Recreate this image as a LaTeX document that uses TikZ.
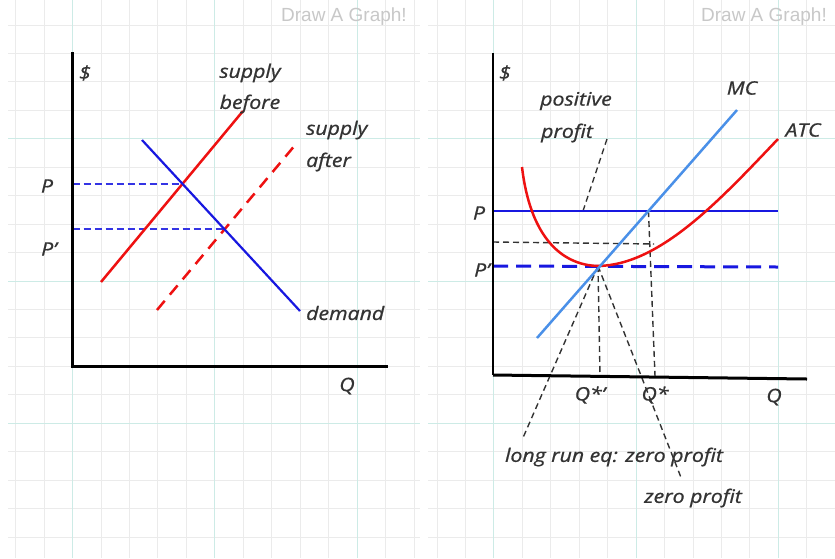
\documentclass[tikz,border=0pt]{standalone}
\usepackage{fontspec}
\setmainfont{Open Sans}
\newfontfamily\hand[ItalicFeatures={FakeStretch=1.15,FakeBold=0.9}]{Open Sans}
\newfontfamily\uifont{Liberation Sans}
\definecolor{gridminor}{HTML}{EBEBEB}
\definecolor{gridmajor}{HTML}{CDEBE6}
\definecolor{ink}{HTML}{333333}
\definecolor{redc}{HTML}{EE1111}
\definecolor{bluec}{HTML}{1818E0}
\definecolor{pblue}{HTML}{3434E4}
\definecolor{mcblue}{HTML}{4A90E8}
\definecolor{wm}{HTML}{C8C8C8}
\begin{document}
\begin{tikzpicture}[x=1pt,y=-1pt,
  lbl/.style={font=\hand\itshape\fontsize{18.5}{18.5}\selectfont, text=ink, inner sep=0pt},
  wmark/.style={font=\uifont\fontsize{19}{19}\selectfont, text=wm, inner sep=0pt, anchor=east},
  axis/.style={black, line width=3pt},
  thinaxis/.style={black, line width=2pt},
  redline/.style={redc, line width=2.5pt},
  reddash/.style={redc, line width=2.5pt, dash pattern=on 12pt off 8pt},
  blueline/.style={bluec, line width=2.2pt},
  pdash/.style={pblue, line width=2pt, dash pattern=on 7pt off 4pt},
  bkdash/.style={ink, line width=1.4pt, dash pattern=on 6pt off 4pt},
  thickdash/.style={bluec, line width=3pt, dash pattern=on 15pt off 8pt},
]
\useasboundingbox (0,0) rectangle (835,558);
\fill[white] (0,0) rectangle (835,558);
% ---------- grid ----------
\foreach \i in {0,...,18} {
  \draw[gridminor, line width=1pt] (8,{25+28.45*\i}) -- (420,{25+28.45*\i});
  \draw[gridminor, line width=1pt] (428,{25+28.45*\i}) -- (835,{25+28.45*\i});
}
\foreach \i in {0,...,14} {
  \draw[gridminor, line width=1pt] ({15.7+28.45*\i},0) -- ({15.7+28.45*\i},558);
  \draw[gridminor, line width=1pt] ({437+28.45*\i},0) -- ({437+28.45*\i},558);
}
\foreach \i in {4,9,14} {
  \draw[gridmajor, line width=1pt] (8,{25+28.45*\i}) -- (420,{25+28.45*\i});
  \draw[gridmajor, line width=1pt] (428,{25+28.45*\i}) -- (835,{25+28.45*\i});
}
\foreach \i in {2,7,12} {
  \draw[gridmajor, line width=1pt] ({15.7+28.45*\i},0) -- ({15.7+28.45*\i},558);
  \draw[gridmajor, line width=1pt] ({437+28.45*\i},0) -- ({437+28.45*\i},558);
}
\node[wmark] (wm1) at (407,17) {Draw A Graph!};
\node[wmark] (wm2) at (827,17) {Draw A Graph!};

% ---------- left graph ----------
\coordinate (yt1) at (72.7,53);
\coordinate (o1) at (72.7,366);
\coordinate (xr1) at (386,366);
\coordinate (sb1) at (101,282);
\coordinate (sb2) at (243,111);
\coordinate (sa1) at (157,310);
\coordinate (sa2) at (296,144);
\coordinate (d1) at (142,140);
\coordinate (d2) at (300,311);
\coordinate (e1) at (intersection of sb1--sb2 and d1--d2);
\coordinate (e2) at (intersection of sa1--sa2 and d1--d2);

\draw[pdash] (e1 -| o1) -- (e1);
\draw[pdash] (e2 -| o1) -- (e2);
\draw[redline] (sb1) -- (sb2);
\draw[reddash] (sa1) -- (sa2);
\draw[blueline] (d1) -- (d2);
\draw[axis, line cap=rect] (yt1) -- (o1) -- (xr1);

\node[lbl] (dol1) at (85,73) {\$};
\node[lbl] (p1) at (47,186) {P};
\node[lbl] (pp1) at (49,249) {P’};
\node[lbl] (sbl1) at (250,73) {supply};
\node[lbl] (sbl2) at (250,104) {before};
\node[lbl, anchor=west] (sal1) at (306,130) {supply};
\node[lbl, anchor=west] (sal2) at (306,162) {after};
\node[lbl, anchor=west] (dem) at (306,313) {demand};
\node[lbl] (q1) at (347,386) {Q};

% ---------- right graph ----------
\coordinate (yt2) at (493,53);
\coordinate (o2) at (493,375);
\coordinate (xr2) at (807,379);
\coordinate (mc1) at (537,338);
\coordinate (mc2) at (737,110);
\coordinate (pl1) at (493,211);
\coordinate (pl2) at (778,211);
\coordinate (e3) at (intersection of mc1--mc2 and pl1--pl2);
\coordinate (m) at (598,266);
\coordinate (pp2a) at (493,266);
\coordinate (pp2b) at (778,267);
\coordinate (hb) at (493,242);
\coordinate (hc) at (654,244);
\coordinate (vb) at (655,376);
\coordinate (mq) at (600,376);
\coordinate (f1) at (522,440);
\coordinate (f2) at (682,480);
\coordinate (ld1) at (607,139);
\coordinate (ld2) at (583,211);

\draw[bkdash] (hb) -- (hc);
\draw[bkdash] (e3) -- (vb);
\draw[bkdash] (m) -- (mq);
\draw[bkdash] (m) -- (f1);
\draw[bkdash] (m) -- (f2);
\draw[bkdash] (ld1) -- (ld2);
\draw[bluec, line width=1.4pt] (pl1) -- (pl2);
\draw[thickdash] (pp2a) -- (pp2b);
\draw[redline] (522,167) .. controls (530,235) and (560,265) .. (m)
  .. controls (660,265) and (720,200) .. (778,139);
\draw[mcblue, line width=2.5pt] (mc1) -- (mc2);
\draw[thinaxis] (yt2) -- (o2);
\draw[axis] (o2) -- (xr2);

\node[lbl] (dol2) at (505,73) {\$};
\node[lbl] (mcl) at (742,88) {MC};
\node[lbl] (atcl) at (803,130) {ATC};
\node[lbl] (pos1) at (576,101) {positive};
\node[lbl] (pos2) at (567,133) {profit};
\node[lbl] (p2) at (479,213) {P};
\node[lbl] (pp2) at (482,270) {P’};
\node[lbl] (qs1) at (590,395) {Q*’};
\node[lbl] (qs2) at (655,395) {Q*};
\node[lbl] (q2) at (774,397) {Q};
\node[lbl] (lr) at (614,457) {long run eq: zero profit};
\node[lbl] (zp) at (693,498) {zero profit};
\end{tikzpicture}
\end{document}
